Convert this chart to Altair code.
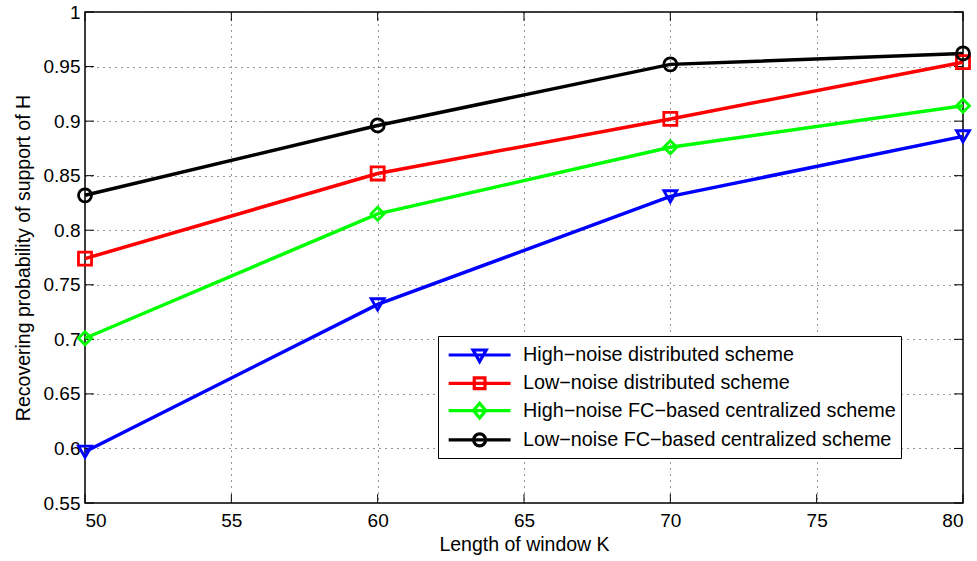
import altair as alt
import pandas as pd

# ---- data ----
K = [50, 60, 70, 80]
high_dist = [0.597, 0.732, 0.831, 0.886]
low_dist = [0.774, 0.852, 0.902, 0.954]
high_fc = [0.701, 0.815, 0.876, 0.914]
low_fc = [0.832, 0.896, 0.952, 0.962]

series_names = [
    "High\u2212noise distributed scheme",
    "Low\u2212noise distributed scheme",
    "High\u2212noise FC\u2212based centralized scheme",
    "Low\u2212noise FC\u2212based centralized scheme",
]
colors = ["#0000ff", "#ff0000", "#00ff00", "#000000"]
marker_shapes = ["triangle-down", "square", "diamond", "circle"]
# legend glyphs: a line segment with the marker drawn on it
legend_shapes = [
    "M-0.7,0H4.5M1.35,-0.42L2.45,-0.42L1.9,0.55Z",
    "M-0.7,0H4.5M1.45,-0.45H2.35V0.45H1.45Z",
    "M-0.7,0H4.5M1.9,-0.62L2.42,0L1.9,0.62L1.38,0Z",
    "M-0.7,0H4.5M1.4,0A0.5,0.5,0,1,0,2.4,0A0.5,0.5,0,1,0,1.4,0Z",
]
x_ticks = [50, 55, 60, 65, 70, 75, 80]
y_ticks = [0.55, 0.6, 0.65, 0.7, 0.75, 0.8, 0.85, 0.9, 0.95, 1.0]

rows = []
for i, (name, vals) in enumerate(zip(series_names, [high_dist, low_dist, high_fc, low_fc])):
    for k, v in zip(K, vals):
        rows.append({"K": k, "P": v, "series": name, "idx": i})
df = pd.DataFrame(rows)
xt = pd.DataFrame({"v": x_ticks})
yt = pd.DataFrame({"v": y_ticks})

W, H = 878, 491
FONT = "Liberation Sans"
TL = 9  # inward tick length

xscale = alt.Scale(domain=[50, 80], nice=False, zero=False)
yscale = alt.Scale(domain=[0.55, 1.0], nice=False, zero=False)

x_axis = alt.Axis(values=x_ticks, title="Length of window K", grid=True,
                  labelPadding=8, titlePadding=5, format="d")
y_axis = alt.Axis(values=y_ticks, title="Recovering probability of support of H", grid=True,
                  labelPadding=5, titlePadding=10, format=".2~f")

X = alt.X("K:Q", scale=xscale, axis=x_axis)
Y = alt.Y("P:Q", scale=yscale, axis=y_axis)

color_plain = alt.Color("series:N", scale=alt.Scale(domain=series_names, range=colors), legend=None)

lines = alt.Chart(df).mark_line(strokeWidth=3.5).encode(
    x=X, y=Y, color=color_plain, order=alt.Order("K:Q"), detail="series:N"
)

points = alt.Chart(df).mark_point(filled=False, strokeWidth=2.8, size=170, opacity=1).encode(
    x=X, y=Y, color=color_plain,
    shape=alt.Shape("series:N", scale=alt.Scale(domain=series_names, range=marker_shapes), legend=None),
)

leg = dict(orient="none", legendX=353, legendY=324, padding=5, fillColor="white",
           strokeColor="black", symbolSize=567, symbolStrokeWidth=3.2, labelOffset=52,
           rowPadding=1.3, labelFontSize=19.8, labelFont=FONT, labelColor="black",
           labelLimit=600, title=None, symbolFillColor="transparent")

legend_layer = alt.Chart(df).transform_filter("false").mark_point(filled=False, opacity=1).encode(
    x=X, y=Y,
    color=alt.Color("series:N", scale=alt.Scale(domain=series_names, range=colors), legend=alt.Legend(**leg)),
    shape=alt.Shape("series:N", scale=alt.Scale(domain=series_names, range=legend_shapes), legend=alt.Legend(**leg)),
)

yl = alt.Chart(yt).mark_rule(color="black", strokeWidth=1).encode(
    y=alt.Y("v:Q", scale=yscale, axis=y_axis), x=alt.value(0), x2=alt.value(TL))
yr = alt.Chart(yt).mark_rule(color="black", strokeWidth=1).encode(
    y=alt.Y("v:Q", scale=yscale, axis=y_axis), x=alt.value(W - TL), x2=alt.value(W))
xb = alt.Chart(xt).mark_rule(color="black", strokeWidth=1).encode(
    x=alt.X("v:Q", scale=xscale, axis=x_axis), y=alt.value(H - TL), y2=alt.value(H))
xtop = alt.Chart(xt).mark_rule(color="black", strokeWidth=1).encode(
    x=alt.X("v:Q", scale=xscale, axis=x_axis), y=alt.value(0), y2=alt.value(TL))

chart = alt.layer(yl, yr, xb, xtop, lines, points, legend_layer).resolve_scale(
    color="independent", shape="independent"
).properties(
    width=W, height=H,
    autosize=alt.AutoSizeParams(type="none"),
    padding={"left": 85, "top": 12, "right": 14, "bottom": 58},
    background="white",
).configure_view(
    stroke="black", strokeWidth=1.5
).configure_axis(
    labelFont=FONT, labelFontSize=19, labelColor="black",
    titleFont=FONT, titleFontSize=19.5, titleFontWeight="normal", titleColor="black",
    ticks=False, domain=False,
    gridColor="#333333", gridDash=[1, 5], gridWidth=1, gridOpacity=1,
)

chart.save("out.html", embed_options={"renderer": "svg", "actions": False})
